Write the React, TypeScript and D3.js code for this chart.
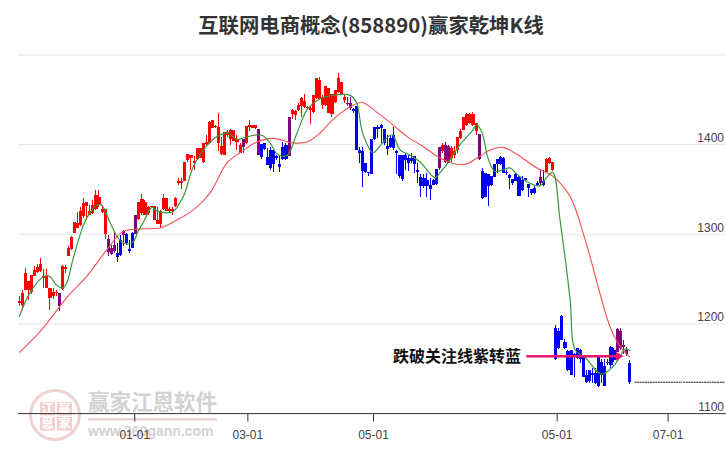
import { useEffect, useRef } from 'react';
import * as d3 from 'd3';

const width = 726;
const height = 450;

const highs = [
  1231,1238,1262,1248,1255,1265,1267,1274,1261,1261,
  1240,1240,1238,1234,1266,1266,1287,1298,1314,1325,
  1331,1341,1336,1333,1338,1349,1349,1333,1328,1299,
  1288,1304,1290,1299,1305,1301,1294,1303,1322,1336,
  1345,1338,1332,1332,1332,1331,1327,1345,1341,1331,
  1330,1342,1363,1363,1381,1390,1389,1387,1396,1396,
  1402,1411,1426,1428,1422,1435,1409,1414,1416,1417,
  1416,1411,1402,1406,1421,1427,1422,1422,1418,1401,
  1402,1396,1397,1394,1388,1387,1403,1402,1431,1440,
  1439,1447,1453,1457,1443,1443,1455,1474,1476,1455,
  1465,1463,1456,1461,1480,1470,1456,1453,1453,1441,
  1443,1397,1397,1380,1370,1406,1420,1422,1423,1418,
  1411,1411,1420,1394,1389,1389,1391,1389,1391,1387,
  1379,1367,1367,1368,1363,1362,1373,1397,1402,1403,
  1400,1398,1398,1409,1418,1431,1435,1435,1436,1424,
  1412,1374,1368,1367,1365,1378,1384,1387,1386,1372,
  1367,1362,1368,1365,1365,1363,1356,1351,1354,1359,
  1373,1372,1385,1386,1381,1199,1195,1210,1183,1171,
  1171,1168,1173,1172,1164,1149,1149,1151,1151,1164,
  1161,1161,1161,1175,1173,1195,1196,1182,1174,1160,
];

const bodyTops = [
  1226,1234,1257,1248,1255,1260,1264,1267,1253,1253,
  1240,1236,1236,1234,1265,1264,1285,1297,1314,1313,
  1326,1335,1336,1326,1333,1344,1342,1328,1328,1295,
  1285,1288,1279,1294,1304,1300,1284,1302,1322,1336,
  1339,1336,1331,1332,1332,1316,1326,1341,1341,1328,
  1328,1341,1359,1359,1381,1390,1388,1382,1396,1396,
  1402,1403,1425,1427,1421,1420,1399,1414,1414,1416,
  1416,1406,1400,1406,1421,1422,1422,1422,1418,1401,
  1402,1386,1394,1394,1387,1378,1397,1400,1431,1439,
  1438,1444,1452,1449,1442,1441,1455,1474,1472,1453,
  1465,1463,1456,1461,1474,1470,1453,1447,1447,1440,
  1443,1394,1393,1380,1370,1406,1420,1420,1422,1418,
  1398,1407,1411,1393,1389,1389,1389,1385,1385,1387,
  1372,1364,1363,1361,1355,1361,1373,1397,1400,1400,
  1398,1396,1393,1409,1415,1431,1434,1434,1434,1424,
  1412,1371,1368,1367,1365,1378,1384,1386,1385,1370,
  1366,1362,1367,1364,1361,1363,1356,1351,1352,1357,
  1364,1359,1384,1385,1381,1196,1192,1209,1180,1170,
  1171,1167,1173,1171,1164,1143,1149,1145,1145,1163,
  1158,1153,1158,1174,1171,1194,1192,1176,1171,1156,
];

const bodyBottoms = [
  1223,1221,1238,1238,1236,1254,1258,1259,1252,1240,
  1229,1231,1234,1220,1239,1261,1276,1284,1302,1307,
  1310,1320,1332,1322,1324,1328,1333,1325,1300,1280,
  1278,1281,1275,1277,1299,1290,1281,1285,1300,1317,
  1324,1322,1324,1330,1316,1311,1311,1328,1326,1326,
  1326,1332,1357,1357,1360,1383,1385,1380,1384,1385,
  1381,1401,1402,1419,1420,1402,1390,1389,1411,1406,
  1404,1403,1391,1397,1402,1420,1419,1419,1388,1386,
  1395,1377,1374,1378,1385,1375,1384,1384,1387,1434,
  1433,1439,1443,1442,1441,1439,1436,1452,1451,1444,
  1444,1435,1434,1448,1459,1456,1450,1446,1441,1437,
  1394,1391,1371,1370,1368,1367,1406,1418,1419,1402,
  1395,1397,1396,1391,1365,1362,1383,1379,1382,1378,
  1370,1354,1354,1354,1350,1355,1356,1374,1393,1381,
  1379,1385,1389,1394,1407,1416,1422,1424,1422,1415,
  1384,1341,1342,1354,1355,1364,1378,1378,1368,1368,
  1363,1357,1360,1343,1349,1361,1352,1346,1346,1355,
  1357,1355,1369,1380,1372,1161,1173,1182,1173,1149,
  1143,1166,1162,1161,1141,1135,1136,1143,1134,1131,
  1143,1131,1156,1154,1160,1169,1173,1174,1166,1135,
];

const lows = [
  1220,1218,1238,1227,1233,1254,1257,1258,1240,1240,
  1216,1228,1231,1215,1238,1257,1276,1283,1301,1307,
  1309,1318,1316,1321,1323,1327,1331,1324,1295,1276,
  1277,1279,1269,1276,1287,1288,1279,1285,1300,1316,
  1322,1322,1322,1330,1316,1311,1307,1327,1326,1324,
  1322,1331,1355,1350,1359,1381,1372,1372,1383,1385,
  1380,1400,1401,1419,1419,1393,1389,1388,1409,1400,
  1404,1394,1391,1391,1401,1415,1419,1417,1388,1384,
  1394,1377,1372,1370,1383,1369,1383,1383,1387,1429,
  1428,1438,1431,1441,1440,1423,1435,1451,1451,1440,
  1443,1435,1431,1447,1458,1455,1446,1443,1439,1435,
  1394,1380,1353,1368,1365,1367,1405,1407,1402,1400,
  1389,1396,1394,1367,1363,1360,1372,1371,1380,1368,
  1357,1342,1352,1342,1338,1355,1355,1372,1391,1379,
  1379,1381,1385,1391,1406,1416,1421,1423,1421,1411,
  1383,1339,1342,1332,1354,1364,1368,1377,1368,1366,
  1351,1355,1359,1343,1348,1360,1342,1344,1345,1354,
  1355,1354,1368,1378,1371,1160,1172,1182,1172,1148,
  1143,1141,1161,1156,1141,1134,1134,1134,1133,1130,
  1134,1131,1154,1151,1158,1169,1171,1166,1164,1133,
];

// colour state of each run of candles: [state, how many]
const signalRuns: [string, number][] = [
  ['r',13],['p',1],['r',15],['p',3],['b',2],['p',1],['b',3],['p',1],['r',34],['p',1],
  ['r',4],['p',1],['b',9],['p',1],['r',18],['p',2],['b',28],['p',1],['r',1],['p',2],
  ['r',9],['p',1],['b',19],['p',1],['b',1],['r',3],['b',20],['p',4],['b',1],
];

const greenIdx = [0,3.5,8,10,12,14,15.5,17.5,21,23,25.5,27,29.5,32,34,37,38.7,40.4,43.3,45,50,53,54,56.7,59,62,64.5,68,71,73.6,77.5,79.5,81.8,84,86,87.7,90.6,93.9,98,102.3,107.9,110,112,115.4,118,121.6,124.2,127,130.7,135.6,137.3,139.9,143.8,147.7,149.3,151,152.9,155.2,157.8,160,162.7,166.6,169.9,171.5,174,176.4,179.7,181.3,184.5,188.5,190,193.3,195.9,197.6,199.2];
const greenVal = [1208,1235,1253,1253,1244,1240,1246,1272,1311,1324,1333,1332,1314,1297,1290,1291,1303,1313,1330,1326,1325,1339,1346,1375,1389,1402,1409,1413,1406,1408,1411,1410,1402,1390,1387,1389,1413,1439,1451,1455,1455,1447,1413,1391,1400,1411,1394,1389,1381,1363,1369,1380,1400,1415,1422,1413,1385,1370,1372,1374,1366,1357,1354,1361,1369,1316,1227,1171,1163,1147,1144,1151,1163,1172,1170];

const redIdx = [0,7.4,15.6,22,28.6,33.8,39.4,45.9,51.4,56.7,62.2,67.8,72,77.5,82.8,89.3,93.9,98.1,102.3,107.9,111.8,116.7,121.9,126.5,131.7,137.3,141.5,145.4,149.3,153.6,157.8,162.4,168.9,174,179.7,184.6,190,192.7,196,199.2];
const redVal = [1168,1194,1230,1253,1283,1303,1306,1307,1316,1327,1346,1380,1391,1403,1407,1402,1403,1413,1428,1442,1447,1436,1422,1409,1398,1385,1379,1378,1385,1394,1397,1389,1374,1365,1342,1294,1227,1197,1175,1163];

const gridPrices = [1200, 1300, 1400, 1500];
const labelPrices = [1100, 1200, 1300, 1400];
const tickIdx = [37.5, 74.4, 115.4, 175.3, 211.5];
const tickLabels = ['01-01', '03-01', '05-01', '05-01', '07-01'];

// flat projection after the last candle, broken into two stretches
const futurePrice = 1135;
const futureStretches = [[200.7, 216.2], [216.6, 230.2]];

const breakPrice = 1164;
const breakFromIdx = 165.4;
const breakToIdx = 197.2;

const colors: { [key: string]: string } = { r: '#ff0000', b: '#0000ee', p: '#800080' };
const cjk = '"Noto Sans CJK SC", sans-serif';

const App = () => {
  const svgRef = useRef<SVGSVGElement>(null);

  useEffect(() => {
    if (!svgRef.current) return;
    const svg = d3.select(svgRef.current);
    svg.selectAll('*').remove();

    const x = d3.scaleLinear().domain([0, 199]).range([19.3, 629.3]);
    const y = d3.scaleLinear().domain([1100, 1500]).range([413.6, 55]);

    const signals = signalRuns.flatMap(([s, n]) => Array.from({ length: n }, () => s));
    const candles = highs.map((h, i) => ({
      i, h, top: bodyTops[i], bottom: bodyBottoms[i], l: lows[i], s: signals[i],
    }));

    // watermark
    const mark = svg.append('g');
    mark.append('circle').attr('cx', 55).attr('cy', 415).attr('r', 24.5)
      .attr('fill', 'none').attr('stroke', '#f0d2d2').attr('stroke-width', 3);
    [['江', 40, 402], ['赢', 57, 402], ['恩', 40, 417], ['家', 57, 417]].forEach(([t, cx, cy]) => {
      mark.append('rect').attr('x', cx as number).attr('y', cy as number)
        .attr('width', 15).attr('height', 13.5).attr('fill', '#f3cfcf');
      mark.append('text').attr('x', (cx as number) + 7.5).attr('y', (cy as number) + 11)
        .attr('text-anchor', 'middle').style('font-family', cjk).style('font-size', '12px')
        .style('font-weight', 'bold').attr('fill', '#fff').text(t as string);
    });
    mark.append('text').attr('x', 88).attr('y', 410).style('font-family', cjk)
      .style('font-size', '21.5px').style('font-weight', 'bold').attr('fill', '#d2d2d2')
      .text('赢家江恩软件');
    mark.append('rect').attr('x', 88).attr('y', 418).attr('width', 129).attr('height', 2.5).attr('fill', '#ead6d6');
    mark.append('text').attr('x', 88).attr('y', 436).style('font-family', '"Liberation Sans", sans-serif')
      .style('font-size', '14px').style('font-weight', 'bold').attr('fill', '#d2d2d2')
      .text('www.360gann.com');

    // grid
    svg.append('g').selectAll('line').data(gridPrices).enter().append('line')
      .attr('x1', 18).attr('x2', width)
      .attr('y1', d => y(d)).attr('y2', d => y(d))
      .attr('stroke', '#e6e6e6');

    // candles
    const cg = svg.append('g').attr('shape-rendering', 'crispEdges');
    cg.selectAll('line').data(candles).enter().append('line')
      .attr('x1', d => x(d.i)).attr('x2', d => x(d.i))
      .attr('y1', d => y(d.h)).attr('y2', d => y(d.l))
      .attr('stroke', d => colors[d.s]).attr('stroke-width', 1);
    cg.selectAll('rect').data(candles).enter().append('rect')
      .attr('x', d => x(d.i) - 1.5).attr('width', 3.1)
      .attr('y', d => y(d.top))
      .attr('height', d => Math.max(1.5, y(d.bottom) - y(d.top)))
      .attr('fill', d => colors[d.s]);

    // moving lines
    const maLine = (idx: number[], val: number[], color: string, w: number) => {
      svg.append('path')
        .attr('d', d3.line<number>().x((_, i) => x(idx[i])).y(d => y(d)).curve(d3.curveCatmullRom)(val))
        .attr('fill', 'none').attr('stroke', color).attr('stroke-width', w);
    };
    maLine(redIdx, redVal, '#f55252', 1.1);
    maLine(greenIdx, greenVal, '#38983c', 1.2);

    // flat projection
    futureStretches.forEach(([a, b]) => {
      svg.append('line').attr('x1', x(a)).attr('x2', x(b))
        .attr('y1', y(futurePrice)).attr('y2', y(futurePrice))
        .attr('stroke', '#111').attr('stroke-dasharray', '2 0.6');
    });

    // break-line annotation
    const ay = y(breakPrice);
    svg.append('line').attr('x1', x(breakFromIdx)).attr('x2', x(breakToIdx) - 7)
      .attr('y1', ay).attr('y2', ay)
      .attr('stroke', '#e8186f').attr('stroke-width', 2.6);
    svg.append('path')
      .attr('d', d3.line()([[x(breakToIdx), ay], [x(breakToIdx) - 8, ay - 4.5], [x(breakToIdx) - 8, ay + 4.5]]) + 'Z')
      .attr('fill', '#e8186f');
    svg.append('text').attr('x', 521).attr('y', ay + 5.5).attr('text-anchor', 'end')
      .style('font-family', cjk).style('font-size', '16px').style('font-weight', 'bold')
      .attr('fill', '#111').text('跌破关注线紫转蓝');

    // x axis
    const xAxis = svg.append('g').attr('transform', `translate(0,${y(1100)})`)
      .call(d3.axisBottom(x).tickValues(tickIdx).tickSize(8).tickFormat((_, i) => tickLabels[i]));
    xAxis.select('.domain').attr('d', `M18,0H${width}`).attr('stroke', '#333');
    xAxis.selectAll('.tick line').attr('stroke', '#333');
    xAxis.selectAll('.tick text')
      .attr('y', 17).attr('fill', '#444')
      .style('font-family', '"Liberation Sans", sans-serif').style('font-size', '12px');

    // y labels
    const yAxis = svg.append('g').attr('transform', 'translate(724,0)')
      .call(d3.axisLeft(y).tickValues(labelPrices).tickSize(0).tickPadding(0).tickFormat(d3.format('d')));
    yAxis.select('.domain').remove();
    yAxis.selectAll('.tick text')
      .attr('dy', '-0.27em').attr('fill', '#444')
      .style('font-family', '"Liberation Sans", sans-serif').style('font-size', '12px');

    // title
    svg.append('text').attr('x', 371).attr('y', 33).attr('text-anchor', 'middle')
      .style('font-family', cjk).style('font-size', '20.35px').style('font-weight', 'bold')
      .attr('fill', '#333').text('互联网电商概念(858890)赢家乾坤K线');
  }, []);

  return (
    <svg ref={svgRef} width={width} height={height}
      style={{ position: 'absolute', left: 0, top: 0, background: '#fff' }} />
  );
};

export default App;
